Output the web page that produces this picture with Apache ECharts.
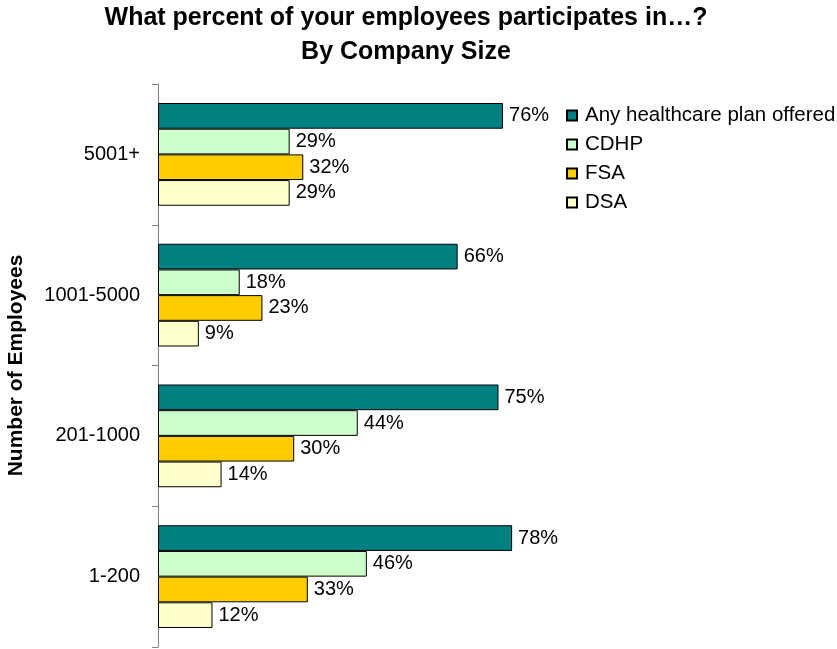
<!DOCTYPE html>
<html>
<head>
<meta charset="utf-8">
<script src="https://cdn.jsdelivr.net/npm/echarts@6/dist/echarts.min.js"></script>
<style>
  html, body { margin: 0; padding: 0; background: #fff; }
  #chart { width: 837px; height: 649px; }
</style>
</head>
<body>
<div id="chart"></div>
<script>
// Company size groups, listed top to bottom
const sizes = ['5001+', '1001-5000', '201-1000', '1-200'];
const seriesNames = ['Any healthcare plan offered', 'CDHP', 'FSA', 'DSA'];
// Participation percentages per group
const anyPlan = [76, 66, 75, 78];
const cdhp = [29, 18, 44, 46];
const fsa = [32, 23, 30, 33];
const dsa = [29, 9, 14, 12];

const colors = ['#008080', '#CCFFCC', '#FFCC00', '#FFFFCC'];
const FONT = '"Liberation Sans", Arial, sans-serif';

const chart = echarts.init(document.getElementById('chart'));

function makeSeries(name, values, color) {
  return {
    name: name,
    type: 'bar',
    data: values,
    barGap: '0%',
    barCategoryGap: '27%',
    itemStyle: { color: color, borderColor: '#000', borderWidth: 1 },
    label: {
      show: true,
      position: 'right',
      distance: 6,
      formatter: '{c}%',
      color: '#000',
      fontSize: 20,
      fontFamily: FONT
    },
    emphasis: { disabled: true },
    animation: false
  };
}

chart.setOption({
  animation: false,
  title: {
    text: 'What percent of your employees participates in…?\nBy Company Size',
    left: 406,
    textAlign: 'center',
    top: 1,
    padding: 0,
    textStyle: {
      fontFamily: FONT,
      fontSize: 25,
      fontWeight: 'bold',
      color: '#000',
      lineHeight: 34
    }
  },
  legend: {
    orient: 'vertical',
    left: 561,
    top: 100,
    data: seriesNames,
    icon: 'rect',
    itemWidth: 10,
    itemHeight: 10,
    itemGap: 8,
    textStyle: { fontFamily: FONT, fontSize: 20.5, color: '#000', lineHeight: 21, padding: [0, 0, 0, 3] },
    selectedMode: false
  },
  grid: { left: 158, right: 225, top: 84, bottom: 2, containLabel: false, outerBoundsMode: 'none' },
  xAxis: {
    type: 'value',
    min: 0,
    max: 100,
    show: false
  },
  yAxis: {
    type: 'category',
    data: sizes,
    inverse: true,
    name: 'Number of Employees',
    nameLocation: 'middle',
    nameGap: 131,
    nameRotate: 90,
    nameTextStyle: { fontFamily: FONT, fontSize: 21, fontWeight: 'bold', color: '#000' },
    axisLine: { lineStyle: { color: '#808080', width: 1 } },
    axisTick: { show: true, length: 6, lineStyle: { color: '#808080' } },
    axisLabel: { margin: 18, fontFamily: FONT, fontSize: 20, color: '#000' }
  },
  series: [
    makeSeries(seriesNames[0], anyPlan, colors[0]),
    makeSeries(seriesNames[1], cdhp, colors[1]),
    makeSeries(seriesNames[2], fsa, colors[2]),
    makeSeries(seriesNames[3], dsa, colors[3])
  ]
});
</script>
</body>
</html>
